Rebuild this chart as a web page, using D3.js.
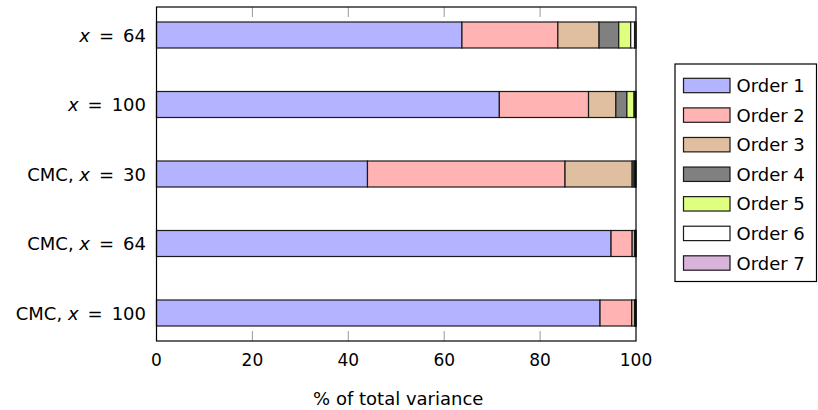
<!DOCTYPE html>
<html><head><meta charset="utf-8">
<script src="https://cdn.jsdelivr.net/npm/d3@7"></script>
<style>
html,body{margin:0;padding:0;background:#fff;}
svg text{font-family:"DejaVu Sans",sans-serif;fill:#000;}
</style></head>
<body><svg id="c" width="818" height="410"></svg>
<script>
// categories (top to bottom), label parts: [prefix, italic var, suffix]
const categories = ["x = 64", "x = 100", "CMC, x = 30", "CMC, x = 64", "CMC, x = 100"];
const labelParts = [["", "x", "\u2002=\u200264"], ["", "x", "\u2002=\u2002100"], ["CMC, ", "x", "\u2002=\u200230"], ["CMC, ", "x", "\u2002=\u200264"], ["CMC, ", "x", "\u2002=\u2002100"]];
const seriesNames = ["Order 1", "Order 2", "Order 3", "Order 4", "Order 5", "Order 6", "Order 7"];
const order1 = [63.7, 71.5, 44.0, 94.8, 92.5];
const order2 = [20.0, 18.6, 41.2, 4.4, 6.6];
const order3 = [8.6, 5.7, 14.0, 0.5, 0.6];
const order4 = [4.1, 2.3, 0.4, 0.1, 0.1];
const order5 = [2.5, 1.5, 0.2, 0.1, 0.1];
const order6 = [0.8, 0.2, 0.1, 0.05, 0.05];
const order7 = [0.3, 0.2, 0.1, 0.05, 0.05];
const xTicks = [0, 20, 40, 60, 80, 100];
const colors = ["#b3b3ff", "#ffb3b3", "#dfbf9f", "#808080", "#dfff80", "#ffffff", "#d9b3d9"];

const allSeries = [order1, order2, order3, order4, order5, order6, order7];
const rows = categories.map((c, i) => {
  const r = {cat: c};
  seriesNames.forEach((s, k) => r[s] = allSeries[k][i]);
  return r;
});

const svg = d3.select("#c");
const L = 156.5, R = 636, T = 7, B = 341;
const x = d3.scaleLinear().domain([0, 100]).range([L, R]);
const y = d3.scalePoint().domain(categories).range([35, 313]);
const barH = 26;

const stack = d3.stack().keys(seriesNames)(rows);

// inner ticks (top and bottom)
const tickLen = 10;
svg.append("g").selectAll("line").data(xTicks.slice(1, -1)).join("line")
  .attr("x1", d => x(d)).attr("x2", d => x(d)).attr("y1", T).attr("y2", T + tickLen)
  .attr("stroke", "#999").attr("stroke-width", 1);
svg.append("g").selectAll("line").data(xTicks.slice(1, -1)).join("line")
  .attr("x1", d => x(d)).attr("x2", d => x(d)).attr("y1", B - tickLen).attr("y2", B)
  .attr("stroke", "#999").attr("stroke-width", 1);

// bars
stack.forEach((layer, k) => {
  svg.append("g").selectAll("rect").data(layer).join("rect")
    .attr("x", d => x(d[0]))
    .attr("width", d => x(d[1]) - x(d[0]))
    .attr("y", d => y(d.data.cat) - barH / 2)
    .attr("height", barH)
    .attr("fill", colors[k])
    .attr("stroke", "#1a1a1a").attr("stroke-width", 1.2);
});

// frame
svg.append("rect").attr("x", L).attr("y", T).attr("width", R - L).attr("height", B - T)
  .attr("fill", "none").attr("stroke", "#000").attr("stroke-width", 1.2);

// x tick labels
svg.append("g").selectAll("text").data(xTicks).join("text")
  .attr("x", d => x(d)).attr("y", 366).attr("text-anchor", "middle")
  .attr("font-size", 17).text(d => d);

// x axis title
svg.append("text").attr("x", (L + R) / 2 + 2).attr("y", 405).attr("text-anchor", "middle")
  .attr("font-size", 18).text("% of total variance");

// y labels
const yl = svg.append("g").selectAll("text").data(categories).join("text")
  .attr("x", 146).attr("y", d => y(d) + 6.5).attr("text-anchor", "end").attr("font-size", 18);
yl.each(function(d, i) {
  const t = d3.select(this);
  const p = labelParts[i];
  if (p[0]) t.append("tspan").text(p[0]);
  t.append("tspan").attr("font-style", "italic").text(p[1]);
  t.append("tspan").text(p[2]);
});

// legend
const lg = svg.append("g");
lg.append("rect").attr("x", 675).attr("y", 64).attr("width", 141.5).attr("height", 217.5)
  .attr("fill", "#fff").attr("stroke", "#000").attr("stroke-width", 1.2);
const ly = d3.scalePoint().domain(seriesNames).range([85.5, 263]);
seriesNames.forEach((s, k) => {
  lg.append("rect").attr("x", 683.5).attr("y", ly(s) - 7.2).attr("width", 46.5).attr("height", 14.4)
    .attr("fill", colors[k]).attr("stroke", "#1a1a1a").attr("stroke-width", 1.2);
  lg.append("text").attr("x", 736.5).attr("y", ly(s) + 6.5).attr("font-size", 18).text(s);
});
</script></body></html>
